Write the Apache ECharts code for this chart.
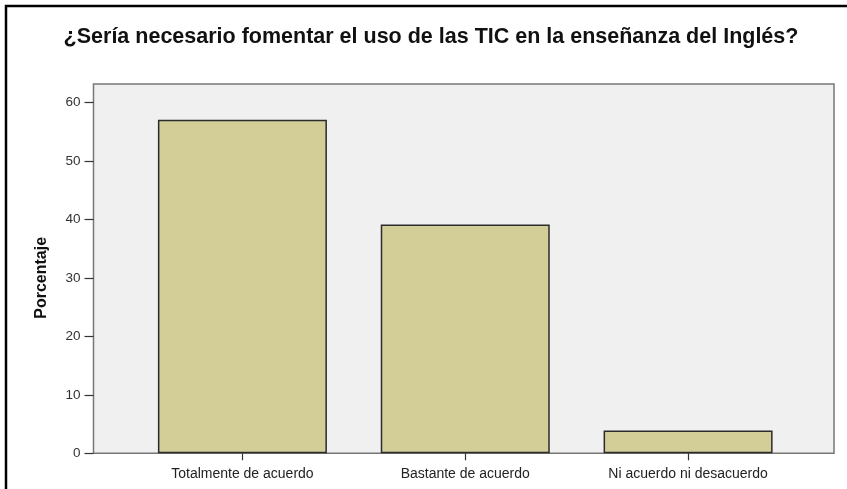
<!DOCTYPE html>
<html>
<head>
<meta charset="utf-8">
<script src="https://cdn.jsdelivr.net/npm/echarts@6/dist/echarts.min.js"></script>
<style>
  html, body { margin: 0; padding: 0; background: #fff; }
  #chart { width: 847px; height: 489px; }
</style>
</head>
<body>
<div id="chart"></div>
<script>
// data
const categories = ['Totalmente de acuerdo', 'Bastante de acuerdo', 'Ni acuerdo ni desacuerdo']
const percentages = [57.0, 39.1, 3.9]
const yTicks = { min: 0, max: 60, step: 10 }

const titleText = '¿Sería necesario fomentar el uso de las TIC en la enseñanza del Inglés?'
const font = '"Liberation Sans", Arial, sans-serif'

const chart = echarts.init(document.getElementById('chart'))

chart.setOption({
  animation: false,
  backgroundColor: '#fff',
  title: {
    text: titleText,
    left: 426,
    textAlign: 'center',
    top: 21,
    textStyle: { fontFamily: font, fontSize: 21.5, fontWeight: 'bold', color: '#111' }
  },
  graphic: [{
    // outer frame, runs off the right and bottom edges
    type: 'rect',
    shape: { x: 6, y: 6, width: 900, height: 600 },
    style: { fill: 'none', stroke: '#000', lineWidth: 2.5 },
    silent: true
  }],
  grid: [
    // 0: gray plot box
    { left: 93.5, right: 13, top: 84, bottom: 35.7, show: true, backgroundColor: '#f0f0f0', borderColor: '#777', borderWidth: 1.5 },
    // 1: y axis
    { left: 93.5, right: 13, top: 102.3, bottom: 35.7 },
    // 2: bars
    { left: 131, right: 47.5, top: 102.3, bottom: 35.7 }
  ],
  xAxis: [
    { gridIndex: 0, type: 'value', show: false },
    { gridIndex: 1, type: 'value', show: false },
    {
      gridIndex: 2,
      type: 'category',
      data: categories,
      axisLine: { show: false },
      axisTick: { show: true, alignWithLabel: true, length: 7, lineStyle: { color: '#333', width: 1.2 } },
      axisLabel: { margin: 14, fontFamily: font, fontSize: 14, color: '#222' },
      splitLine: { show: false }
    }
  ],
  yAxis: [
    { gridIndex: 0, type: 'value', show: false },
    {
      gridIndex: 1,
      type: 'value',
      min: yTicks.min,
      max: yTicks.max,
      interval: yTicks.step,
      name: 'Porcentaje',
      nameLocation: 'middle',
      nameGap: 44,
      nameTextStyle: { fontFamily: font, fontSize: 16, fontWeight: 'bold', color: '#111' },
      axisLine: { show: false },
      axisTick: { show: true, length: 9, lineStyle: { color: '#333', width: 1.2 } },
      axisLabel: { margin: 13, fontFamily: font, fontSize: 13.5, color: '#333' },
      splitLine: { show: false }
    },
    { gridIndex: 2, type: 'value', min: yTicks.min, max: yTicks.max, show: false }
  ],
  series: [{
    type: 'bar',
    xAxisIndex: 2,
    yAxisIndex: 2,
    data: percentages,
    barWidth: 169,
    itemStyle: { color: '#d3ce97', borderColor: '#2b2b2b', borderWidth: 1.5 }
  }]
})
</script>
</body>
</html>
